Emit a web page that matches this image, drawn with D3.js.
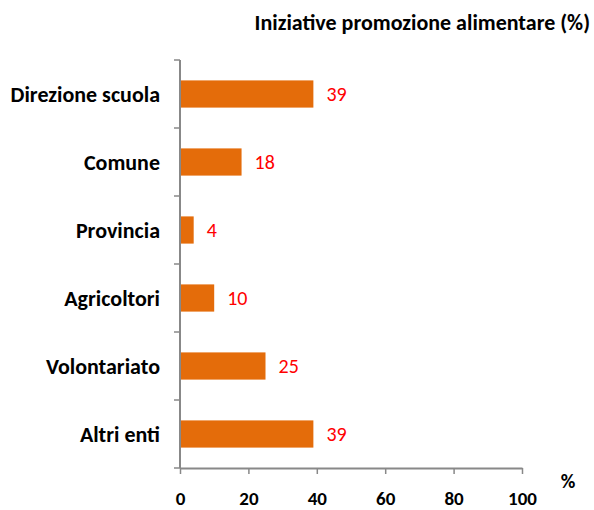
<!DOCTYPE html>
<html>
<head>
<meta charset="utf-8">
<script src="https://cdn.jsdelivr.net/npm/d3@7"></script>
<style>
  body { margin: 0; background: #fff; }
  text { font-family: Carlito, Lato, "Open Sans", sans-serif; }
</style>
</head>
<body>
<div class="chart"></div>
<script>
'use strict';

var categories = ['Direzione scuola', 'Comune', 'Provincia', 'Agricoltori', 'Volontariato', 'Altri enti'];
var values = [39, 18, 4, 10, 25, 39];
var xTicks = [0, 20, 40, 60, 80, 100];
var title = 'Iniziative promozione alimentare (%)';
var xUnit = '%';

var width = 594, height = 510;
var margin = {top: 60, right: 72, bottom: 42, left: 180};

var svg = d3.select('.chart').append('svg')
    .attr('width', width)
    .attr('height', height);

var x = d3.scaleLinear().domain([0, 100]).range([margin.left, width - margin.right]);
var y = d3.scaleBand().domain(categories).range([margin.top, height - margin.bottom])
    .paddingInner(0.6).paddingOuter(0.3);

var axisColor = '#888';

// bars
svg.selectAll('rect.bar').data(values).enter().append('rect')
    .attr('class', 'bar')
    .attr('x', x(0))
    .attr('y', function(d, i) { return y(categories[i]); })
    .attr('width', function(d) { return x(d) - x(0); })
    .attr('height', y.bandwidth())
    .style('fill', '#e46c0a');

// value labels
svg.selectAll('text.val').data(values).enter().append('text')
    .attr('class', 'val')
    .attr('x', function(d) { return x(d) + 13; })
    .attr('y', function(d, i) { return y(categories[i]) + y.bandwidth() / 2; })
    .attr('dy', '0.35em')
    .style('fill', '#ff0000')
    .style('font-size', '20px')
    .text(function(d) { return d; });

// y axis: line with ticks at band boundaries
var bounds = d3.range(categories.length + 1).map(function(i) { return margin.top + i * (height - margin.top - margin.bottom) / categories.length; });
svg.append('line')
    .attr('x1', x(0)).attr('x2', x(0))
    .attr('y1', bounds[0]).attr('y2', bounds[bounds.length - 1])
    .style('stroke', axisColor).style('stroke-width', 2);
svg.selectAll('line.ytick').data(bounds).enter().append('line')
    .attr('class', 'ytick')
    .attr('x1', x(0) - 6).attr('x2', x(0))
    .attr('y1', function(d) { return d; }).attr('y2', function(d) { return d; })
    .style('stroke', axisColor).style('stroke-width', 1.5);

// category labels
svg.selectAll('text.cat').data(categories).enter().append('text')
    .attr('class', 'cat')
    .attr('x', x(0) - 20)
    .attr('y', function(d) { return y(d) + y.bandwidth() / 2; })
    .attr('dy', '0.35em')
    .attr('text-anchor', 'end')
    .style('font-weight', 'bold')
    .style('font-size', '22px')
    .style('fill', '#000')
    .text(function(d) { return d; });

// x axis
var xAxis = svg.append('g')
    .attr('transform', 'translate(0,' + (height - margin.bottom) + ')')
    .call(d3.axisBottom(x).tickValues(xTicks).tickSize(6).tickPadding(18).tickSizeOuter(0));
xAxis.select('.domain').style('stroke', axisColor).style('stroke-width', 2);
xAxis.selectAll('.tick line').style('stroke', axisColor).style('stroke-width', 1.5);
xAxis.selectAll('.tick text')
    .style('font-family', 'Carlito, Lato, "Open Sans", sans-serif')
    .style('font-weight', 'bold')
    .style('font-size', '19px')
    .style('fill', '#000');

svg.append('text')
    .attr('x', 568).attr('y', 488)
    .attr('text-anchor', 'middle')
    .style('font-weight', 'bold')
    .style('font-size', '20px')
    .text(xUnit);

// title
svg.append('text')
    .attr('x', 590).attr('y', 30)
    .attr('text-anchor', 'end')
    .style('font-weight', 'bold')
    .style('font-size', '22px')
    .text(title);
</script>
</body>
</html>
